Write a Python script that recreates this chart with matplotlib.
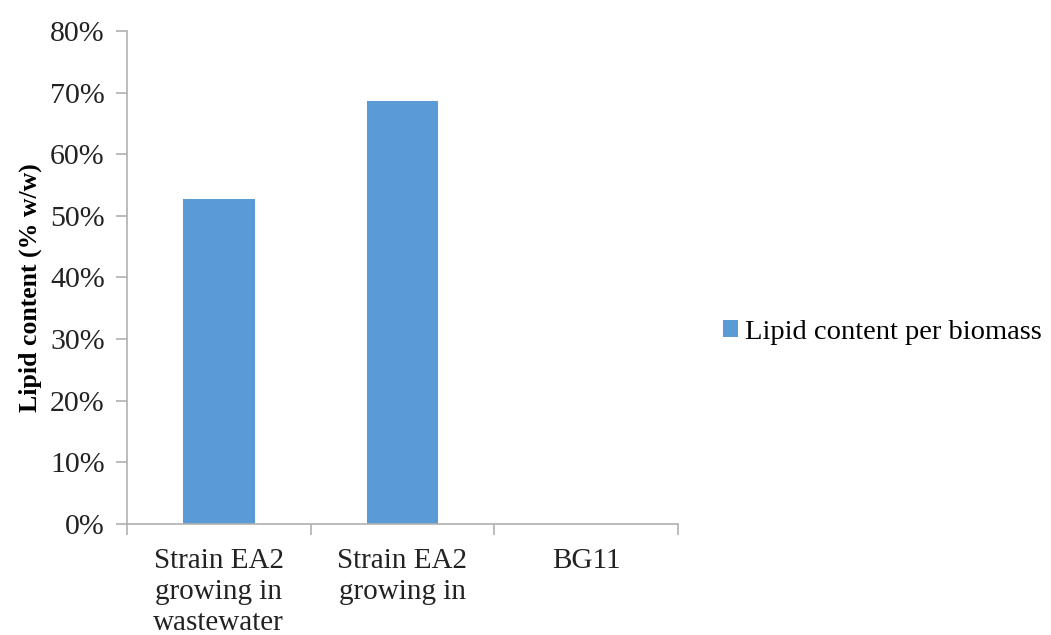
import matplotlib.pyplot as plt
import numpy as np

plt.rcParams['font.family'] = ['Liberation Serif', 'DejaVu Serif']

categories = ['Strain EA2\ngrowing in\nwastewater', 'Strain EA2\ngrowing in', 'BG11']
lipid = [52.8, 68.6, 0.0]
series_name = 'Lipid content per biomass'
yticks = np.arange(0, 81, 10)

fig = plt.figure(figsize=(10.51, 6.35), dpi=100)
ax = fig.add_axes([0.1208, 0.1748, 0.5243, 0.7764])

x = np.arange(len(categories))
ax.bar(x, lipid, width=0.39, color='#5b9bd5', label=series_name)

ax.set_xlim(-0.5, len(categories) - 0.5)
ax.set_ylim(0, 80)
ax.set_yticks(yticks)
ax.set_yticklabels([f'{v}%' for v in yticks], fontsize=21.5, color='#222222')

# category ticks sit between the bars
ax.set_xticks(np.arange(-0.5, len(categories)), minor=False)
ax.set_xticklabels([])
ax.set_xticks(x, minor=True)
ax.set_xticklabels(categories, minor=True, fontsize=21, color='#222222', linespacing=1.25, va='top')
ax.tick_params(axis='x', which='minor', length=0, pad=17)
ax.tick_params(axis='x', which='major', length=8, color='#b0b0b0', width=1.2)
ax.tick_params(axis='y', length=8, color='#b0b0b0', width=1.2, pad=8)

for side in ['top', 'right']:
    ax.spines[side].set_visible(False)
for side in ['left', 'bottom']:
    ax.spines[side].set_color('#b0b0b0')
    ax.spines[side].set_linewidth(1.2)

ax.set_ylabel('Lipid content (% w/w)', fontsize=18.5, fontweight='bold', labelpad=12)
ax.yaxis.set_label_coords(-0.155, 0.48)

fig.legend(loc='center left', bbox_to_anchor=(0.688, 0.477), frameon=False,
           borderpad=0, borderaxespad=0, fontsize=20.5,
           handlelength=0.52, handleheight=0.52, handletextpad=0.25)

fig.savefig('out.png', dpi=100)
